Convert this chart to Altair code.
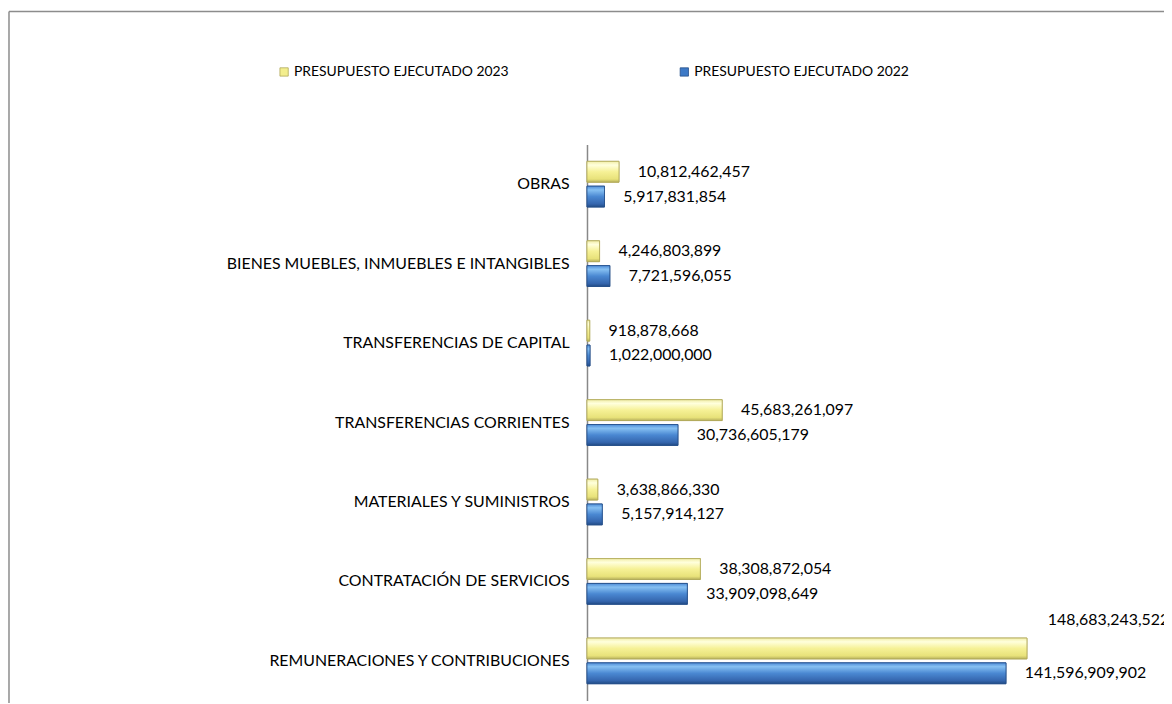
import altair as alt
import pandas as pd

categories = [
    "OBRAS",
    "BIENES MUEBLES, INMUEBLES E INTANGIBLES",
    "TRANSFERENCIAS DE CAPITAL",
    "TRANSFERENCIAS CORRIENTES",
    "MATERIALES Y SUMINISTROS",
    "CONTRATACIÓN DE SERVICIOS",
    "REMUNERACIONES Y CONTRIBUCIONES",
]
series_names = ["PRESUPUESTO EJECUTADO 2023", "PRESUPUESTO EJECUTADO 2022"]
values_2023 = [10812462457, 4246803899, 918878668, 45683261097, 3638866330, 38308872054, 148683243522]
values_2022 = [5917831854, 7721596055, 1022000000, 30736605179, 5157914127, 33909098649, 141596909902]

rows = []
for c, v in zip(categories, values_2023):
    rows.append({"cat": c, "series": series_names[0], "value": v})
for c, v in zip(categories, values_2022):
    rows.append({"cat": c, "series": series_names[1], "value": v})
df = pd.DataFrame(rows)

FONT = "Lato"
PAD_L, PAD_T = 583, 135
W, H = 1172 - 8 - PAD_L - 12, 560
PX_PER_UNIT = 443 / 148.68e9
XMAX = W / PX_PER_UNIT

yellow_grad = alt.LinearGradient(
    gradient="linear", x1=0, x2=0, y1=0, y2=1,
    stops=[
        alt.GradientStop(offset=0, color="#F2EEA8"),
        alt.GradientStop(offset=0.18, color="#FFFFDC"),
        alt.GradientStop(offset=0.5, color="#F6F196"),
        alt.GradientStop(offset=0.85, color="#E8E27A"),
        alt.GradientStop(offset=1, color="#B9B25E"),
    ],
)
blue_grad = alt.LinearGradient(
    gradient="linear", x1=0, x2=0, y1=0, y2=1,
    stops=[
        alt.GradientStop(offset=0, color="#4F8DD8"),
        alt.GradientStop(offset=0.18, color="#86C0F2"),
        alt.GradientStop(offset=0.5, color="#4A88D2"),
        alt.GradientStop(offset=0.85, color="#3566AE"),
        alt.GradientStop(offset=1, color="#224C86"),
    ],
)

y_enc = alt.Y(
    "cat:N", sort=categories, title=None,
    scale=alt.Scale(paddingInner=0.425, paddingOuter=0.2125),
    axis=alt.Axis(domainColor="#888888", domainWidth=1.5, ticks=False,
                  labelFont=FONT, labelFontSize=16, labelColor="#000000",
                  labelPadding=18, labelLimit=450),
)
yoff = alt.YOffset("series:N", sort=series_names,
                   scale=alt.Scale(paddingInner=0.16, paddingOuter=0))
x_enc = alt.X("value:Q", scale=alt.Scale(domain=[0, XMAX], nice=False),
              axis=None, title=None)

base = alt.Chart(df)

bars = base.mark_bar(strokeWidth=0.8).encode(
    y=y_enc, yOffset=yoff, x=x_enc,
    color=alt.Color(
        "series:N", sort=series_names,
        scale=alt.Scale(domain=series_names, range=["#F3EE8E", "#3D79C6"]),
        legend=alt.Legend(
            title=None, orient="none", legendX=-312, legendY=-80,
            direction="horizontal", columns=2, columnPadding=169,
            symbolType="square", symbolSize=70, symbolStrokeWidth=0.8,
            labelFont=FONT, labelFontSize=14, labelColor="#000000",
            labelOffset=3, labelLimit=400,
        ),
    ),
    stroke=alt.Stroke(
        "series:N", sort=series_names,
        scale=alt.Scale(domain=series_names, range=["#B0A858", "#244E88"]),
        legend=None,
    ),
)

grad_bars = base.mark_bar(strokeWidth=0.8).encode(
    y=y_enc, yOffset=yoff, x=x_enc,
    fill=alt.condition(alt.datum.series == series_names[0],
                       alt.value(yellow_grad), alt.value(blue_grad)),
    stroke=alt.condition(alt.datum.series == series_names[0],
                         alt.value("#B0A858"), alt.value("#244E88")),
)

labels = base.transform_filter(
    (alt.datum.series != series_names[0]) | (alt.datum.cat != categories[-1])
).mark_text(align="left", baseline="middle", dx=19, font=FONT, fontSize=16,
            color="#000000").encode(
    y=y_enc, yOffset=yoff, x=x_enc,
    text=alt.Text("value:Q", format=",d"),
)
top_label = base.transform_filter(
    (alt.datum.series == series_names[0]) & (alt.datum.cat == categories[-1])
).mark_text(align="left", baseline="middle", dx=21, dy=-29, font=FONT,
            fontSize=16, color="#000000").encode(
    y=y_enc, yOffset=yoff, x=x_enc,
    text=alt.Text("value:Q", format=",d"),
)

frame_top = alt.Chart(pd.DataFrame({"a": [0]})).mark_rule(
    color="#8c8c8c", strokeWidth=1.5).encode(
    x=alt.value(-PAD_L + 1), x2=alt.value(W + 20), y=alt.value(-PAD_T + 1))
frame_left = alt.Chart(pd.DataFrame({"a": [0]})).mark_rule(
    color="#8c8c8c", strokeWidth=1.5).encode(
    x=alt.value(-PAD_L + 1), y=alt.value(-PAD_T + 1), y2=alt.value(H + 10))

chart = alt.layer(frame_top, frame_left, bars, grad_bars, labels, top_label).properties(
    width=W, height=H,
    autosize=alt.AutoSizeParams(type="none"),
    padding={"left": PAD_L, "top": PAD_T, "right": 12, "bottom": 0},
    background="#ffffff",
).configure_view(stroke=None)

chart.save("out.html", embed_options={"renderer": "svg", "actions": False})
